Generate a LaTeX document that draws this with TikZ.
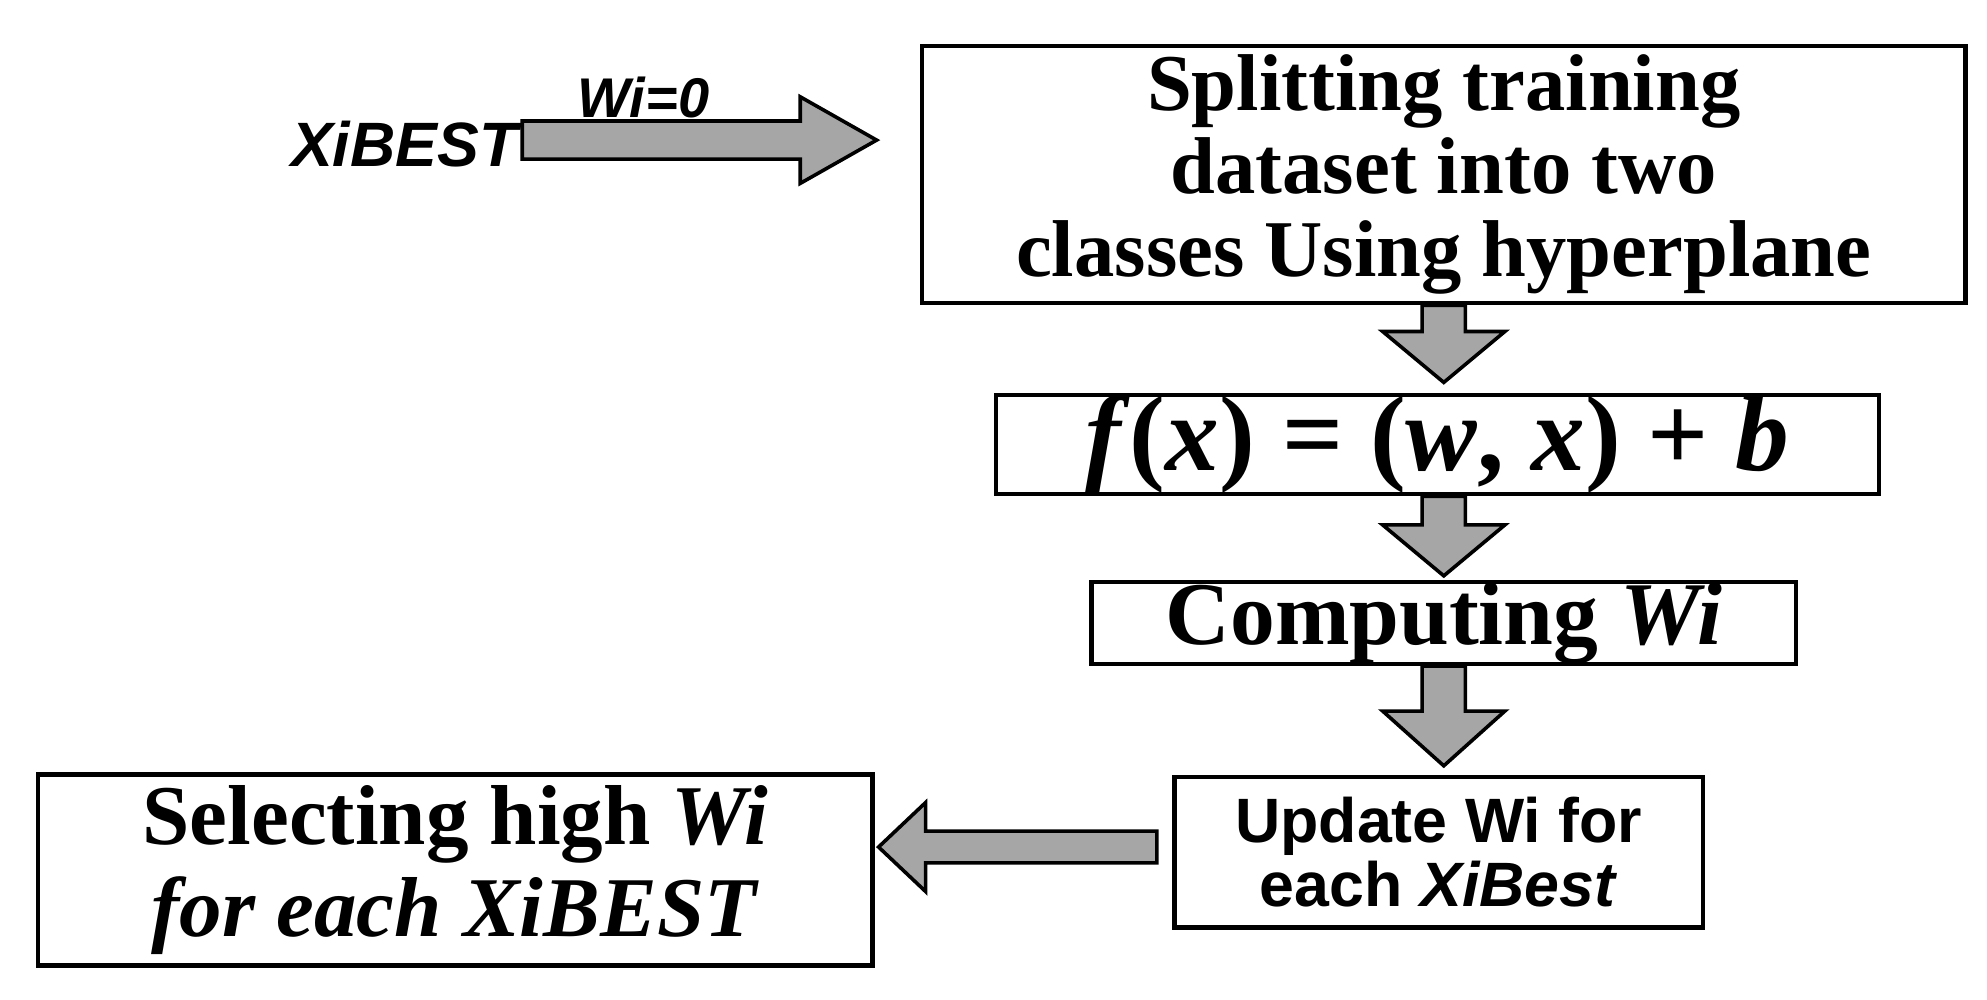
\documentclass[tikz,border=0pt]{standalone}
\usepackage{fontspec}
\setmainfont{Liberation Serif}
\newfontfamily\arialf{Liberation Sans}
\usetikzlibrary{calc}
\newcommand\blkarrow[5]{% from, to, shaft half, head half, head length
  \coordinate (ha) at ($(#2)!#5!(#1)$);
  \fill[gray!70,draw=black,line width=0.8pt]
    ($(#1)!#3!90:(#2)$) -- ($(ha)!#3!-90:(#1)$) -- ($(ha)!#4!-90:(#1)$) -- (#2)
    -- ($(ha)!#4!90:(#1)$) -- ($(ha)!#3!90:(#1)$) -- ($(#1)!#3!-90:(#2)$) -- cycle;}
\begin{document}
\begin{tikzpicture}[
  box/.style={draw=black,line width=1pt,fill=white,align=center,inner sep=0pt},
  sans/.style={font=\arialf\bfseries\fontsize{14}{14.5}\selectfont}]
\useasboundingbox (0,0) rectangle (15.6,7.85);
\node[box,font=\bfseries\fontsize{18}{17}\selectfont,minimum width=8.19cm,minimum height=2.02cm] (b1) at (11.335,6.48)
  {Splitting training\\[1.5pt]dataset into two\\[1.5pt]classes Using hyperplane};
\node[box,minimum width=6.93cm,minimum height=0.78cm,font=\bfseries\fontsize{24}{26}\selectfont] (b2) at (11.285,4.36)
  {\textit{f}(\textit{x}) = (\textit{w}, \textit{x}) + \textit{b}};
\node[box,font=\bfseries\fontsize{20}{20}\selectfont,minimum width=5.53cm,minimum height=0.62cm] (b3) at (11.335,2.96)
  {Computing \textit{Wi}};
\node[box,sans,minimum width=4.15cm,minimum height=1.18cm] (b4) at (11.295,1.16)
  {Update Wi for\\each \textit{XiBest}};
\node[box,font=\bfseries\fontsize{19}{17}\selectfont,minimum width=6.55cm,minimum height=1.5cm] (b5) at (3.575,1.02)
  {Selecting high \textit{Wi}\\[2pt]\textit{for each XiBEST}};
\node[anchor=east,inner sep=0pt,font=\arialf\bfseries\itshape\fontsize{14}{14}\selectfont] (xi) at (4.07,6.72) {XiBEST};
\node[anchor=south,inner sep=0pt,font=\arialf\bfseries\itshape\fontsize{12.5}{12.5}\selectfont] (w0) at (5.05,6.92) {Wi=0};
\coordinate (a1s) at ($(xi.east)+(0.03,0.03)$);
\coordinate (a1e) at ($(b1.west |- a1s)+(-0.34,0)$);
\blkarrow{a1s}{a1e}{0.15cm}{0.34cm}{0.6cm}
\coordinate (d1s) at (b1.south);
\coordinate (d1e) at ($(b1.south |- b2.north)+(0,0.08)$);
\blkarrow{d1s}{d1e}{0.17cm}{0.48cm}{0.4cm}
\coordinate (d2s) at (b1.south |- b2.south);
\coordinate (d2e) at ($(b1.south |- b3.north)+(0,0.03)$);
\blkarrow{d2s}{d2e}{0.17cm}{0.48cm}{0.4cm}
\coordinate (d3s) at (b3.south);
\coordinate (d3e) at ($(b3.south |- b4.north)+(0,0.07)$);
\blkarrow{d3s}{d3e}{0.17cm}{0.48cm}{0.43cm}
\coordinate (l1s) at ($(b4.west)+(-0.12,0.04)$);
\coordinate (l1e) at ($(b5.east |- l1s)+(0.03,0)$);
\blkarrow{l1s}{l1e}{0.125cm}{0.35cm}{0.37cm}
\end{tikzpicture}
\end{document}
